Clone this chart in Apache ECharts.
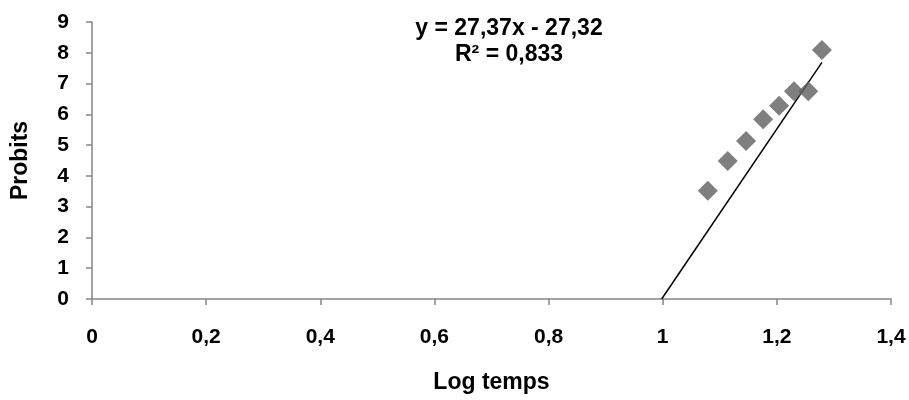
<!DOCTYPE html>
<html>
<head>
<meta charset="utf-8">
<script src="https://cdn.jsdelivr.net/npm/echarts@6/dist/echarts.min.js"></script>
<style>
  html, body { margin: 0; padding: 0; background: #fff; }
  #chart { width: 909px; height: 400px; }
</style>
</head>
<body>
<div id="chart"></div>
<script>
// Log of exposure time and the probit of the response
const logTemps = [1.079, 1.114, 1.146, 1.176, 1.204, 1.230, 1.255, 1.279];
const probits = [3.52, 4.48, 5.13, 5.84, 6.28, 6.75, 6.75, 8.09];

// Linear trend line reported on the chart
const slope = 27.37;
const intercept = -27.32;
const rSquared = '0,833';

const xTicks = [0, 0.2, 0.4, 0.6, 0.8, 1, 1.2, 1.4];
const yTicks = [0, 1, 2, 3, 4, 5, 6, 7, 8, 9];

const fmt = v => String(Math.round(v * 10) / 10).replace('.', ',');
const fmt2 = v => Math.abs(v).toFixed(2).replace('.', ',');

// Trend line runs from where it crosses y = 0 up to the last point
const xStart = -intercept / slope;
const xEnd = logTemps[logTemps.length - 1];
const trend = [[xStart, slope * xStart + intercept], [xEnd, slope * xEnd + intercept]];

const font = 'Liberation Sans, Arial, sans-serif';
const axisColor = '#868686';

const chart = echarts.init(document.getElementById('chart'), null, { renderer: 'canvas' });
chart.setOption({
  animation: false,
  backgroundColor: '#ffffff',
  title: {
    text: 'y = ' + fmt2(slope) + 'x ' + (intercept < 0 ? '-' : '+') + ' ' + fmt2(intercept) + '\nR² = ' + rSquared,
    left: 504,
    top: 11,
    textAlign: 'center',
    textStyle: { fontFamily: font, fontWeight: 'bold', fontSize: 23, lineHeight: 26, color: '#000' }
  },
  grid: { left: 92, right: 18, top: 22, bottom: 101, containLabel: false },
  xAxis: {
    type: 'value',
    min: xTicks[0],
    max: xTicks[xTicks.length - 1],
    interval: 0.2,
    name: 'Log temps',
    nameLocation: 'middle',
    nameGap: 72,
    nameTextStyle: { fontFamily: font, fontWeight: 'bold', fontSize: 23, color: '#000', verticalAlign: 'top' },
    axisLine: { onZero: false, lineStyle: { color: axisColor, width: 1.5 } },
    axisTick: { inside: false, length: 6, lineStyle: { color: axisColor, width: 1.5 } },
    axisLabel: { margin: 28, formatter: fmt, fontFamily: font, fontWeight: 'bold', fontSize: 21, color: '#000' },
    splitLine: { show: false }
  },
  yAxis: {
    type: 'value',
    min: yTicks[0],
    max: yTicks[yTicks.length - 1],
    interval: 1,
    name: 'Probits',
    nameLocation: 'middle',
    nameGap: 60,
    nameRotate: 90,
    nameTextStyle: { fontFamily: font, fontWeight: 'bold', fontSize: 23, color: '#000' },
    axisLine: { show: true, onZero: false, lineStyle: { color: axisColor, width: 1.5 } },
    axisTick: { show: true, inside: false, length: 6, lineStyle: { color: axisColor, width: 1.5 } },
    axisLabel: { margin: 23, formatter: fmt, fontFamily: font, fontWeight: 'bold', fontSize: 21, color: '#000' },
    splitLine: { show: false }
  },
  series: [
    {
      type: 'line',
      data: trend,
      symbol: 'none',
      lineStyle: { color: '#000', width: 1.5 },
      z: 2,
      silent: true
    },
    {
      type: 'scatter',
      data: logTemps.map((x, i) => [x, probits[i]]),
      symbol: 'diamond',
      symbolSize: 20,
      itemStyle: { color: '#5f5f5f' },
      z: 3
    }
  ]
});
</script>
</body>
</html>
